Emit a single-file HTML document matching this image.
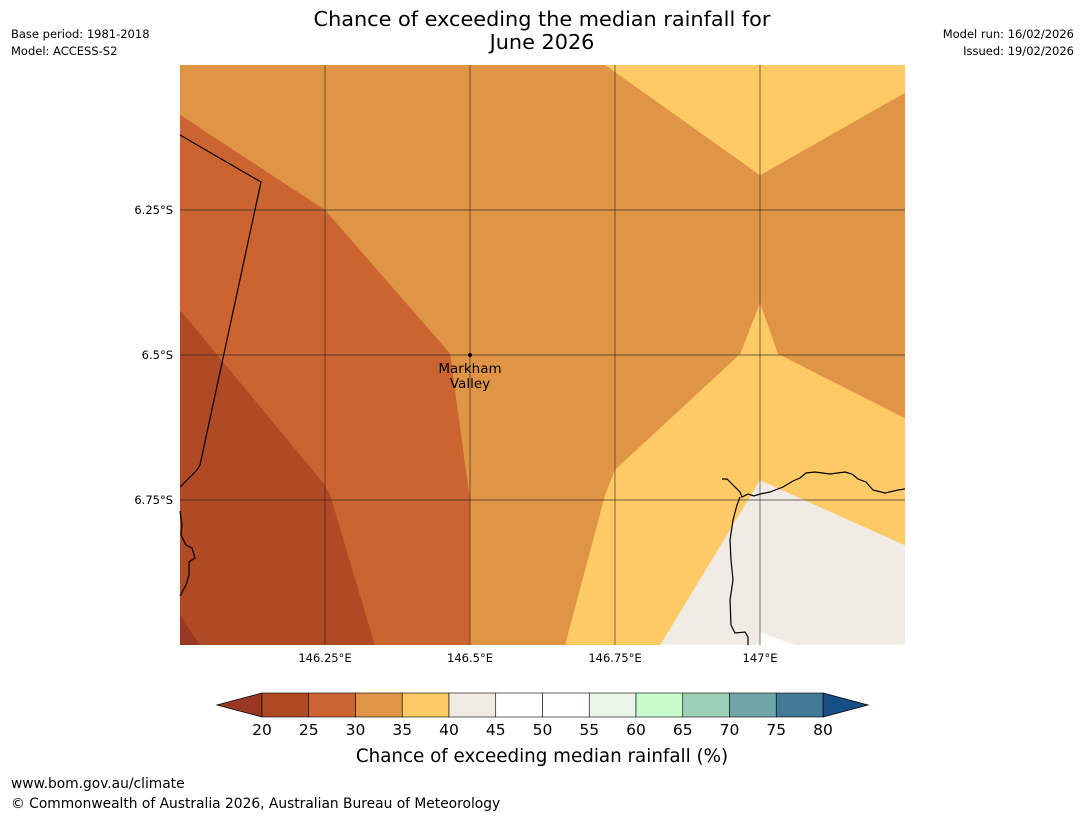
<!DOCTYPE html>
<html><head><meta charset="utf-8"><style>
body{margin:0;background:#fff;width:1085px;height:816px;overflow:hidden;font-family:"Liberation Sans","DejaVu Sans",sans-serif}
svg text{font-family:"DejaVu Sans","Liberation Sans",sans-serif}
</style></head><body>
<svg id="c" width="1085" height="816" xmlns="http://www.w3.org/2000/svg">
<text x="542" y="26" text-anchor="middle" font-size="20.8">Chance of exceeding the median rainfall for</text>
<text x="542" y="49" text-anchor="middle" font-size="20.8">June 2026</text>
<text x="11" y="38" font-size="11.5">Base period: 1981-2018</text>
<text x="11" y="55" font-size="11.5">Model: ACCESS-S2</text>
<text x="1074" y="38" font-size="11.5" text-anchor="end">Model run: 16/02/2026</text>
<text x="1074" y="55" font-size="11.5" text-anchor="end">Issued: 19/02/2026</text>
<g id="map"></g>
<g id="cb"></g>
<text x="542" y="762" text-anchor="middle" font-size="18.3">Chance of exceeding median rainfall (%)</text>
<text x="11" y="788" font-size="13.8">www.bom.gov.au/climate</text>
<text x="11" y="808" font-size="13.8">© Commonwealth of Australia 2026, Australian Bureau of Meteorology</text>
</svg>
<script>
const lonTicks=[146.25,146.5,146.75,147];
const latTicks=[6.25,6.5,6.75];
const lonLabels=["146.25°E","146.5°E","146.75°E","147°E"];
const latLabels=["6.25°S","6.5°S","6.75°S"];
const bounds=[146,147.25,6,7];
const cbLevels=[20,25,30,35,40,45,50,55,60,65,70,75,80];
const cbColors=["#b04a24","#cb6431","#e09445","#fdca65","#f0ebe5","#ffffff","#ffffff","#eaf6e9","#c8fbcb","#9dd0b8","#6fa5a8","#417997"];
const levelColors={"<20":"#993822","20":"#b04a24","25":"#cb6431","30":"#e09445","35":"#fdca65","40":"#f0ebe5","45":"#ffffff"};
const regions=[
 {lv:"30",pts:[[146,6],[147.25,6],[147.25,7],[146,7]]},
 {lv:"35",pts:[[146.733,6],[147,6.19],[147.25,6.048],[147.25,6]]},
 {lv:"35",pts:[[147,6.41],[147.031,6.498],[147.25,6.609],[147.25,7],[146.664,7],[146.733,6.741],[146.75,6.698],[146.966,6.498]]},
 {lv:"40",pts:[[147,6.716],[147.25,6.828],[147.25,7],[146.828,7]]},
 {lv:"45",pts:[[147,6.978],[147.06,7],[147,7]]},
 {lv:"25",pts:[[146,6.086],[146.25,6.25],[146.466,6.498],[146.474,6.56],[146.5,6.75],[146.5,7],[146.336,7],[146.259,6.741],[146.25,6.724],[146,6.422]]},
 {lv:"20",pts:[[146,6.422],[146.25,6.724],[146.259,6.741],[146.336,7],[146,7]]},
 {lv:"<20",pts:[[146,6.948],[146.034,7],[146,7]]}
];
const X0=180,X1=905,Y0=65,Y1=645;
const sx=lon=>X0+(lon-bounds[0])/(bounds[1]-bounds[0])*(X1-X0);
const sy=lat=>Y0+(lat-bounds[2])/(bounds[3]-bounds[2])*(Y1-Y0);
const NS="http://www.w3.org/2000/svg";
const map=document.getElementById('map');
function mk(t,a,p){const e=document.createElementNS(NS,t);for(const k in a)e.setAttribute(k,a[k]);p.appendChild(e);return e;}
regions.forEach(r=>{
 const e=mk('polygon',{points:r.pts.map(p=>sx(p[0])+','+sy(p[1])).join(' '),fill:levelColors[r.lv]},map);
 
 
});
const border=mk('polyline',{points:"180,135 261,182 200,465 197,470 180,487",fill:"none",stroke:"#000","stroke-width":1.2},map);


const coastL=mk('polyline',{points:"180,511 182,525 181,535 186,545 192,548 195,558 189,562 189,575 186,585 180,596",fill:"none",stroke:"#000","stroke-width":1.2},map);


const coastR=mk('polyline',{points:"722,479 727,479 733,485 740,492 742,497 748,494 754,496 760,494 770,492 783,487 793,481 800,478 806,473 815,472 830,474 845,472 852,474 858,479 866,482 873,490 885,493 898,490 905,489",fill:"none",stroke:"#000","stroke-width":1.2},map);


const coastR2=mk('polyline',{points:"740,497 737,505 733,520 730,540 731,560 733,580 730,600 731,625 735,633 745,632 748,637 748,645",fill:"none",stroke:"#000","stroke-width":1.2},map);


lonTicks.forEach((v,i)=>{
 const l=mk('line',{x1:sx(v),x2:sx(v),y1:Y0,y2:Y1,stroke:"#222","stroke-width":0.9,"stroke-opacity":0.65},map);
 
 
 const t=mk('text',{x:sx(v),y:Y1+17,"text-anchor":"middle","font-size":11.5},map);t.textContent=lonLabels[i];
 
 
});
latTicks.forEach((v,i)=>{
 const l=mk('line',{x1:X0,x2:X1,y1:sy(v),y2:sy(v),stroke:"#222","stroke-width":0.9,"stroke-opacity":0.65},map);
 
 
 const t=mk('text',{x:X0-7,y:sy(v)+4,"text-anchor":"end","font-size":11.5},map);t.textContent=latLabels[i];
 
 
});
const dot=mk('circle',{cx:sx(146.5),cy:sy(6.5),r:2,fill:"#000"},map);


const lb=mk('text',{x:sx(146.5),y:sy(6.5)+18,"text-anchor":"middle","font-size":13.5},map);lb.textContent="Markham";


const lb2=mk('text',{x:sx(146.5),y:sy(6.5)+33,"text-anchor":"middle","font-size":13.5},map);lb2.textContent="Valley";


const cb=document.getElementById('cb');
const CX0=262,CX1=823,CY0=693,CY1=717;
const cx=v=>CX0+(v-cbLevels[0])/(cbLevels[cbLevels.length-1]-cbLevels[0])*(CX1-CX0);
const lt=mk('polygon',{points:`${CX0},${CY0} 217,${(CY0+CY1)/2} ${CX0},${CY1}`,fill:"#993822",stroke:"#000","stroke-width":0.8},cb);


const rt=mk('polygon',{points:`${CX1},${CY0} 868,${(CY0+CY1)/2} ${CX1},${CY1}`,fill:"#164f86",stroke:"#000","stroke-width":0.8},cb);


cbColors.forEach((c,i)=>{
 const r=mk('rect',{x:cx(cbLevels[i]),y:CY0,width:cx(cbLevels[i+1])-cx(cbLevels[i]),height:CY1-CY0,fill:c,stroke:"#000","stroke-width":0.6},cb);
 
 
});
cbLevels.forEach(v=>{
 const t=mk('text',{x:cx(v),y:735,"text-anchor":"middle","font-size":15.5},cb);t.textContent=v;
 
 
});
</script>
</body></html>
